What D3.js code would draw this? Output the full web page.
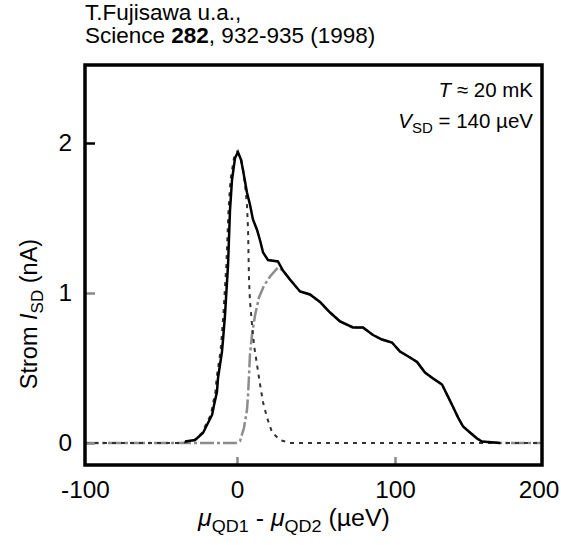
<!DOCTYPE html>
<html>
<head>
<meta charset="utf-8">
<script src="https://cdn.jsdelivr.net/npm/d3@7"></script>
<style>
  body { margin: 0; background: #fff; }
  text { font-family: "Liberation Sans", Arial, sans-serif; }
</style>
</head>
<body>
<div class="canvas"></div>
<script>
// total current (solid black line)
const totalX = [-34.2, -27.6, -22.4, -19.1, -16.4, -15.1, -13.2, -12.5, -11.2, -9.9, -9.2, -7.9, -5.9, -4.6, -3.3, -1.3,
  0.6, 2.5, 3.8, 6.3, 8.2, 10.1, 12.7, 14.6, 16.5, 19.6, 25.9, 29.1, 33.5, 39.9, 46.2, 52.5, 58.9, 65.2, 73.4, 79.7,
  86.1, 91.8, 98.1, 103.4, 110.2, 115, 120.4, 125.9, 132, 136, 139.5, 142.9, 146.3, 151, 155.8, 159.2, 171.4];
const totalY = [0.01, 0.02, 0.067, 0.133, 0.187, 0.253, 0.34, 0.433, 0.52, 0.607, 0.687, 0.853, 1.187, 1.553, 1.753, 1.9,
  1.94, 1.89, 1.82, 1.67, 1.59, 1.49, 1.42, 1.35, 1.27, 1.22, 1.21, 1.15, 1.09, 1.01, 0.99, 0.94, 0.87, 0.81, 0.77, 0.77,
  0.72, 0.69, 0.67, 0.61, 0.57, 0.54, 0.47, 0.43, 0.39, 0.31, 0.24, 0.17, 0.11, 0.07, 0.03, 0.01, 0];

// elastic part (black dotted)
const elasticX = [-100, -36, -28, -23, -20, -17.2, -16, -14.2, -13.4, -12.2, -10.9, -10.2, -9, -7, -5.6, -4.3, -2,
  0, 2.5, 3.8, 5.1, 6.3, 7, 7.3, 7.6, 8.2, 9.5, 10.8, 12.7, 14.6, 16.5, 19, 22.2, 27.2, 33.5, 200];
const elasticY = [0, 0, 0.02, 0.067, 0.133, 0.187, 0.253, 0.34, 0.433, 0.52, 0.607, 0.687, 0.853, 1.187, 1.553, 1.753, 1.9,
  1.94, 1.9, 1.82, 1.72, 1.59, 1.42, 1.25, 1.09, 0.95, 0.79, 0.65, 0.52, 0.39, 0.27, 0.17, 0.07, 0.02, 0, 0];

// inelastic part (grey dash-dot)
const inelasticX = [-100, -0.7, 1.9, 4.4, 6.3, 7, 7.6, 8.2, 9.5, 11.4, 13.9, 17.1, 20.9, 25.9, 29.1, 33.5, 39.9, 46.2,
  52.5, 58.9, 65.2, 73.4, 79.7, 86.1, 91.8, 98.1, 103.4, 110.2, 115, 120.4, 125.9, 132, 136, 139.5, 142.9, 146.3,
  151, 155.8, 159.2, 171.4, 200];
const inelasticY = [0, 0, 0.013, 0.1, 0.22, 0.32, 0.45, 0.59, 0.72, 0.85, 0.97, 1.05, 1.11, 1.17, 1.15, 1.09, 1.01, 0.99,
  0.94, 0.87, 0.81, 0.77, 0.77, 0.72, 0.69, 0.67, 0.61, 0.57, 0.54, 0.47, 0.43, 0.39, 0.31, 0.24, 0.17, 0.11,
  0.07, 0.03, 0.01, 0, 0];

const xTicks = [-100, 0, 100, 200];
const yTicks = [0, 1, 2];

const box = { left: 85, top: 65, right: 542, bottom: 465 };
const sx = 1.06;    // the scan is a bit stretched sideways

const svg = d3.select('.canvas')
  .append('svg')
  .attr('width', 561)
  .attr('height', 545);

// the scanned axis is not quite even, so the x scale is piecewise
const x = d3.scaleLinear()
  .domain([-100, 0, 100, 200])
  .range([box.left, 237, 395, box.right]);

const y = d3.scaleLinear()
  .domain([0, 2])
  .range([443, 143]);

svg.append('clipPath').attr('id', 'clip')
  .append('rect')
    .attr('x', box.left).attr('y', box.top)
    .attr('width', box.right - box.left).attr('height', box.bottom - box.top);

const zip = (xs, ys) => xs.map((v, i) => [v, ys[i]]);
const line = d3.line().x(d => x(d[0])).y(d => y(d[1]));

const plot = svg.append('g').attr('clip-path', 'url(#clip)');

plot.append('path')
  .datum(zip(inelasticX, inelasticY))
  .attr('d', line)
  .attr('fill', 'none')
  .attr('stroke', '#8c8c8c')
  .attr('stroke-width', 2.5)
  .attr('stroke-dasharray', '14,3,3,3');

plot.append('path')
  .datum(zip(elasticX, elasticY))
  .attr('d', line)
  .attr('fill', 'none')
  .attr('stroke', '#333')
  .attr('stroke-width', 2)
  .attr('stroke-dasharray', '4,5');

plot.append('path')
  .datum(zip(totalX, totalY))
  .attr('d', line)
  .attr('fill', 'none')
  .attr('stroke', '#000')
  .attr('stroke-width', 2.5);

// y axis: ticks point inward, labels outside
const yAxis = svg.append('g')
  .attr('transform', `translate(${box.left},0)`)
  .call(d3.axisLeft(y).tickValues(yTicks).tickSize(-10).tickPadding(12).tickFormat(d => String(d)));
yAxis.select('.domain').remove();
yAxis.selectAll('.tick line')
  .attr('stroke', d => d === 2 ? '#000' : '#888')
  .attr('stroke-width', 2.5);
yAxis.selectAll('.tick text')
  .attr('font-size', 23).attr('fill', '#000')
  .attr('x', -13 / sx)
  .attr('transform', `scale(${sx},1)`)
  .style('font-family', '"Liberation Sans", Arial, sans-serif');

const xAxis = svg.append('g')
  .attr('transform', `translate(0,${box.bottom})`)
  .call(d3.axisBottom(x).tickValues(xTicks).tickSize(-8).tickPadding(17).tickFormat(d => String(d)));
xAxis.select('.domain').remove();
xAxis.selectAll('.tick line')
  .attr('stroke', '#888')
  .attr('stroke-width', 2.5)
  .attr('display', d => (d === -100 || d === 200) ? 'none' : null);
xAxis.selectAll('.tick text')
  .attr('font-size', 23).attr('fill', '#000')
  .attr('dx', d => d === 200 ? -3.5 / sx : 0)   // keep the last label inside the page
  .attr('transform', `scale(${sx},1)`)
  .style('font-family', '"Liberation Sans", Arial, sans-serif');

// frame
svg.append('rect')
  .attr('x', box.left).attr('y', box.top)
  .attr('width', box.right - box.left).attr('height', box.bottom - box.top)
  .attr('fill', 'none')
  .attr('stroke', '#000')
  .attr('stroke-width', 3.5);

const label = (px, py, size, anchor, stretch) => svg.append('text')
  .attr('transform', `translate(${px},${py}) scale(${stretch || 1},1)`)
  .attr('font-size', size)
  .attr('text-anchor', anchor || 'start');

// source reference
label(85, 20, 22.5).text('T.Fujisawa u.a.,');
const src = label(85, 43, 22.5);
src.append('tspan').text('Science ');
src.append('tspan').attr('font-weight', 'bold').text('282');
src.append('tspan').text(', 932-935 (1998)');

// conditions
const t1 = label(533, 97, 20.5, 'end');
t1.append('tspan').attr('font-style', 'italic').text('T');
t1.append('tspan').text(' ≈ 20 mK');
const t2 = label(533, 128, 20.5, 'end');
t2.append('tspan').attr('font-style', 'italic').text('V');
t2.append('tspan').attr('font-size', 15).attr('dy', 5).text('SD');
t2.append('tspan').attr('dy', -5).text(' = 140 µeV');

// axis titles
const xl = label(294, 526, 23.5, 'middle', 1.06);
xl.append('tspan').attr('font-style', 'italic').text('μ');
xl.append('tspan').attr('font-size', 17).attr('dy', 6).text('QD1');
xl.append('tspan').attr('dy', -6).text(' - ');
xl.append('tspan').attr('font-style', 'italic').text('μ');
xl.append('tspan').attr('font-size', 17).attr('dy', 6).text('QD2');
xl.append('tspan').attr('dy', -6).text(' (µeV)');

const yl = svg.append('text')
  .attr('transform', 'translate(37,314) rotate(-90)')
  .attr('font-size', 23.5).attr('text-anchor', 'middle');
yl.append('tspan').text('Strom ');
yl.append('tspan').attr('font-style', 'italic').text('I');
yl.append('tspan').attr('font-size', 17).attr('dy', 6).text('SD');
yl.append('tspan').attr('dy', -6).text(' (nA)');
</script>
</body>
</html>
